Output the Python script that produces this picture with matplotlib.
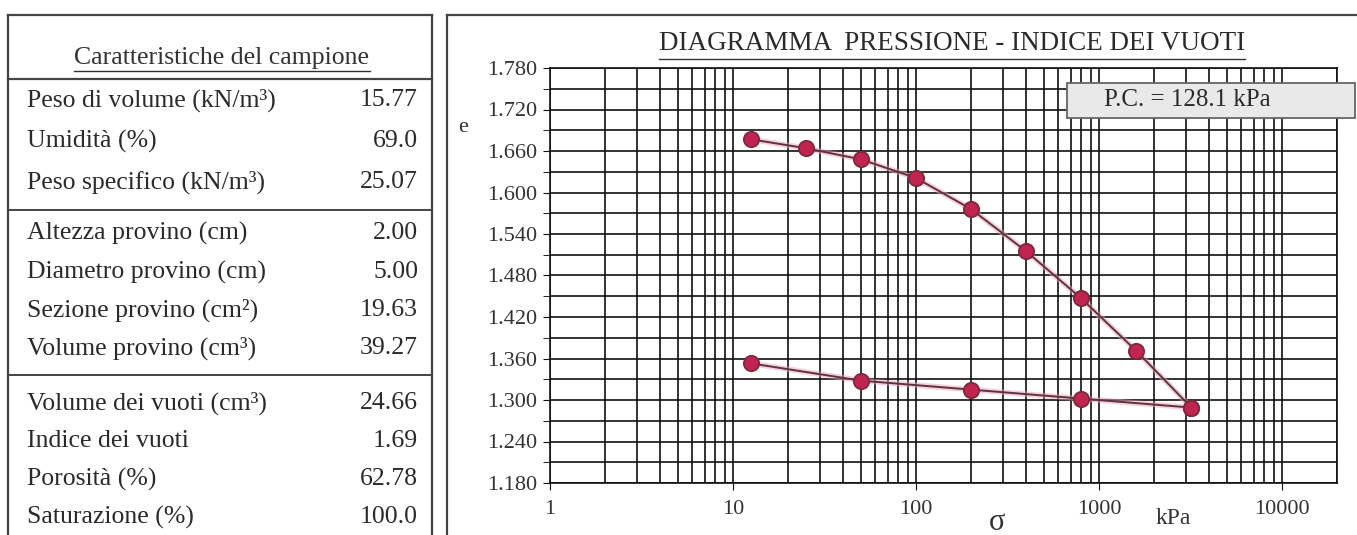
import matplotlib
matplotlib.use('Agg')
import matplotlib.pyplot as plt
from matplotlib.ticker import LogLocator, MultipleLocator, FixedLocator, NullFormatter, FuncFormatter
from matplotlib.lines import Line2D
from matplotlib.patches import Rectangle

W, H = 1357, 535
plt.rcParams['font.family'] = ['Liberation Serif', 'DejaVu Serif']

# curva di carico / scarico (kPa, indice dei vuoti)
pressione_carico = [12.5, 25, 50, 100, 200, 400, 800, 1600, 3200]
e_carico = [1.677, 1.664, 1.648, 1.621, 1.576, 1.515, 1.447, 1.371, 1.289]
pressione_scarico = [3200, 800, 200, 50, 12.5]
e_scarico = [1.289, 1.302, 1.315, 1.328, 1.353]

# tabella caratteristiche
voci_1 = ['Peso di volume (kN/m³)', 'Umidità (%)', 'Peso specifico (kN/m³)']
valori_1 = ['15.77', '69.0', '25.07']
voci_2 = ['Altezza provino (cm)', 'Diametro provino (cm)', 'Sezione provino (cm²)', 'Volume provino (cm³)']
valori_2 = ['2.00', '5.00', '19.63', '39.27']
voci_3 = ['Volume dei vuoti (cm³)', 'Indice dei vuoti', 'Porosità (%)', 'Saturazione (%)']
valori_3 = ['24.66', '1.69', '62.78', '100.0']

x_ticks = [1, 10, 100, 1000, 10000]
x_labels = ['1', '10', '100', '1000', '10000']

fig = plt.figure(figsize=(W / 100, H / 100), dpi=100)
fig.patch.set_facecolor('white')


def fy(y):
    return 1 - y / H


def fx(x):
    return x / W


def linea(x0, y0, x1, y1, lw=1.3, c='#444444'):
    fig.add_artist(Line2D([fx(x0), fx(x1)], [fy(y0), fy(y1)], transform=fig.transFigure, color=c, lw=lw))


def sottolinea(t, dy=3, lw=1.0):
    fig.canvas.draw()
    bb = t.get_window_extent()
    linea(bb.x0, H - bb.y0 + dy, bb.x1, H - bb.y0 + dy, lw=lw, c='#333333')


# ---- tabella a sinistra
linea(8, 15, 432, 15, lw=1.6)
linea(8, 15, 8, 535, lw=1.6)
linea(432, 15, 432, 535, lw=1.6)
linea(8, 79, 432, 79, lw=1.6)
linea(8, 210, 432, 210, lw=1.4)
linea(8, 375, 432, 375, lw=1.4)

tt = fig.text(fx(222), fy(58), 'Caratteristiche del campione', ha='center', va='center', fontsize=18.5, color='#333333')
sottolinea(tt, dy=2)

righe = [(voci_1, valori_1, [100, 141, 182]),
         (voci_2, valori_2, [233, 272, 310, 348]),
         (voci_3, valori_3, [403, 441, 479, 517])]
for voci, valori, ys in righe:
    for v, val, y in zip(voci, valori, ys):
        fig.text(fx(27), fy(y), v, ha='left', va='center', fontsize=18.5, color='#2a2a2a')
        fig.text(fx(418), fy(y), val, ha='right', va='center', fontsize=18.5, color='#2a2a2a')

# ---- riquadro grafico
linea(447, 15, 1356, 15, lw=1.6)
linea(447, 15, 447, 535, lw=1.6)

ax = fig.add_axes([fx(550), fy(483), fx(1337) - fx(550), fy(68) - fy(483)])
ax.set_xscale('log')
ax.set_xlim(1, 20000)
ax.set_ylim(1.18, 1.78)

ax.xaxis.set_major_locator(FixedLocator(x_ticks))
ax.xaxis.set_major_formatter(FuncFormatter(lambda v, p: x_labels[x_ticks.index(round(v))] if round(v) in x_ticks else ''))
ax.xaxis.set_minor_locator(LogLocator(base=10, subs=range(2, 10), numticks=20))
ax.xaxis.set_minor_formatter(NullFormatter())
ax.yaxis.set_major_locator(MultipleLocator(0.06, offset=0.04))
ax.yaxis.set_minor_locator(MultipleLocator(0.03, offset=0.01))
ax.yaxis.set_major_formatter(FuncFormatter(lambda v, p: f'{v:.3f}'))

ax.grid(True, which='both', color='#111111', lw=1.2)
ax.set_axisbelow(True)
for s in ax.spines.values():
    s.set_color('#111111')
    s.set_linewidth(1.2)
ax.tick_params(axis='both', which='major', labelsize=16, colors='#111111', labelcolor='#333333', length=5)
ax.tick_params(axis='x', which='major', pad=7)
ax.tick_params(axis='y', which='major', pad=4)
ax.tick_params(axis='x', which='minor', length=0)
ax.tick_params(axis='y', which='minor', length=5)

# alone rosa della scansione
ax.plot(pressione_carico, e_carico, color='#f2a0b4', lw=4, alpha=0.5, zorder=3)
ax.plot(pressione_scarico, e_scarico, color='#f2a0b4', lw=4, alpha=0.5, zorder=3)
ax.plot(pressione_carico, e_carico, color='#5a3440', lw=1.4, zorder=4)
ax.plot(pressione_scarico, e_scarico, color='#5a3440', lw=1.4, zorder=4)
ax.plot(pressione_carico, e_carico, 'o', ms=11, mfc='#c0244f', mec='#7a2a3c', mew=1.3, zorder=5)
ax.plot(pressione_scarico, e_scarico, 'o', ms=11, mfc='#c0244f', mec='#7a2a3c', mew=1.3, zorder=5)

tg = fig.text(fx(952), fy(44), 'DIAGRAMMA  PRESSIONE - INDICE DEI VUOTI', ha='center', va='center', fontsize=19.5, color='#2a2a2a')
sottolinea(tg, dy=2)

fig.text(fx(463), fy(128), 'e', ha='center', va='center', fontsize=16, color='#333333')
fig.text(fx(997), fy(522), 'σ', ha='center', va='center', fontsize=22, color='#333333')
fig.text(fx(1173), fy(518), 'kPa', ha='center', va='center', fontsize=17, color='#333333')

fig.add_artist(Rectangle((fx(1067), fy(118)), fx(1355) - fx(1067), fy(83) - fy(118), transform=fig.transFigure,
                         fc='#e9e9e9', ec='#666666', lw=1.3, zorder=10))
fig.text(fx(1187), fy(100), 'P.C. = 128.1 kPa', ha='center', va='center', fontsize=18, color='#2a2a2a', zorder=11)

fig.savefig('out.png', dpi=100)
